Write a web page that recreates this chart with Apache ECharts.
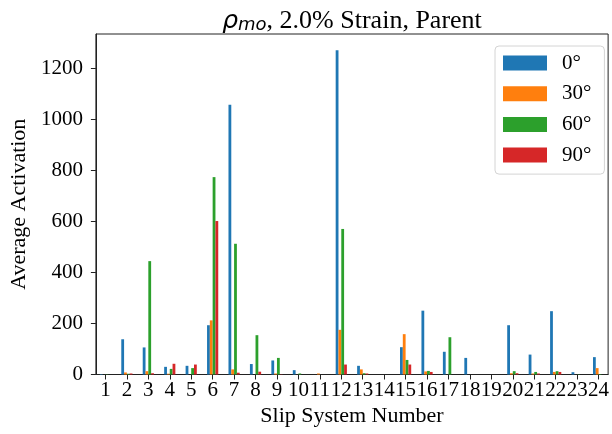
<!DOCTYPE html>
<html>
<head>
<meta charset="utf-8">
<script src="https://cdn.jsdelivr.net/npm/echarts@6/dist/echarts.min.js"></script>
<style>
  html, body { margin: 0; padding: 0; background: #fff; }
  #chart { width: 612px; height: 434px; }
</style>
</head>
<body>
<div id="chart"></div>
<script>
// Slip systems on the x axis
const slipSystems = [1, 2, 3, 4, 5, 6, 7, 8, 9, 10, 11, 12, 13, 14, 15, 16, 17, 18, 19, 20, 21, 22, 23, 24];

// Average activation per slip system, one list per loading angle
const act0  = [2, 138, 106, 30, 34, 193, 1056, 41, 55, 17, 0, 1270, 34, 0, 107, 250, 89, 65, 0, 193, 78, 248, 9, 68];
const act30 = [0, 8, 13, 3, 0, 212, 20, 0, 4, 0, 4, 175, 20, 0, 158, 12, 0, 0, 0, 5, 4, 10, 0, 25];
const act60 = [1, 3, 444, 22, 25, 773, 512, 154, 65, 4, 0, 570, 5, 0, 57, 14, 146, 0, 0, 13, 10, 13, 1, 2];
const act90 = [0, 4, 5, 42, 39, 601, 7, 11, 1, 0, 0, 39, 4, 0, 39, 10, 0, 0, 0, 5, 4, 10, 0, 0];

const angleNames = ['0°', '30°', '60°', '90°'];
const yTicks = [0, 200, 400, 600, 800, 1000, 1200];

const seriesValues = [act0, act30, act60, act90];
const colors = ['#1f77b4', '#ff7f0e', '#2ca02c', '#d62728'];

const serif = 'Liberation Serif';
const chart = echarts.init(document.getElementById('chart'), null, { renderer: 'canvas' });

chart.setOption({
  animation: false,
  backgroundColor: '#ffffff',
  color: colors,
  title: {
    text: '{rho|ρ}{sub|mo}{txt|, 2.0% Strain, Parent}',
    left: 352,
    top: 8,
    padding: 0,
    textAlign: 'center',
    textStyle: {
      fontWeight: 'normal',
      rich: {
        rho: { fontFamily: 'DejaVu Sans', fontStyle: 'italic', fontWeight: 'normal', fontSize: 25, color: '#000' },
        sub: { fontFamily: 'DejaVu Sans', fontStyle: 'italic', fontWeight: 'normal', fontSize: 18, color: '#000', verticalAlign: 'bottom', padding: [8, 0, 0, 0] },
        txt: { fontFamily: serif, fontWeight: 'normal', fontSize: 26, color: '#000' }
      }
    }
  },
  legend: {
    orient: 'vertical',
    left: 495,
    top: 46,
    padding: [6, 13, 8, 8],
    itemWidth: 44,
    itemHeight: 15,
    itemGap: 8.7,
    icon: 'rect',
    backgroundColor: 'rgba(255,255,255,0.8)',
    borderColor: '#d4d4d4',
    borderWidth: 1,
    borderRadius: 4,
    textStyle: { fontFamily: serif, fontSize: 21, color: '#000', lineHeight: 22, padding: [0, 0, 0, 10] },
    data: angleNames
  },
  grid: {
    left: 92,
    top: 34,
    width: 520,
    height: 340.5,
    show: true,
    borderColor: '#222',
    borderWidth: 1,
    backgroundColor: 'transparent'
  },
  xAxis: {
    type: 'value',
    min: 0.555,
    max: 24.445,
    name: 'Slip System Number',
    nameLocation: 'middle',
    nameGap: 31,
    nameTextStyle: { fontFamily: serif, fontSize: 22, color: '#000' },
    axisLine: { show: true, lineStyle: { color: '#222', width: 1 } },
    axisTick: { show: true, length: 5, lineStyle: { color: '#222' }, customValues: slipSystems },
    axisLabel: { fontFamily: serif, fontSize: 21, color: '#000', margin: 5, customValues: slipSystems },
    splitLine: { show: false }
  },
  yAxis: {
    type: 'value',
    min: 0,
    max: 1333.5,
    name: 'Average Activation',
    nameLocation: 'middle',
    nameGap: 64,
    nameTextStyle: { fontFamily: serif, fontSize: 22, color: '#000' },
    axisLine: { show: true, lineStyle: { color: '#222', width: 1 } },
    axisTick: { show: true, length: 5, lineStyle: { color: '#222' }, customValues: yTicks },
    axisLabel: {
      fontFamily: serif, fontSize: 21, color: '#000', margin: 13, customValues: yTicks,
      formatter: (v) => String(v)
    },
    splitLine: { show: false }
  },
  series: angleNames.map((name, i) => ({
    name: name,
    type: 'bar',
    barWidth: 2.8,
    barGap: '0%',
    itemStyle: { color: colors[i] },
    data: slipSystems.map((s, j) => [s, seriesValues[i][j]])
  }))
});
</script>
</body>
</html>
